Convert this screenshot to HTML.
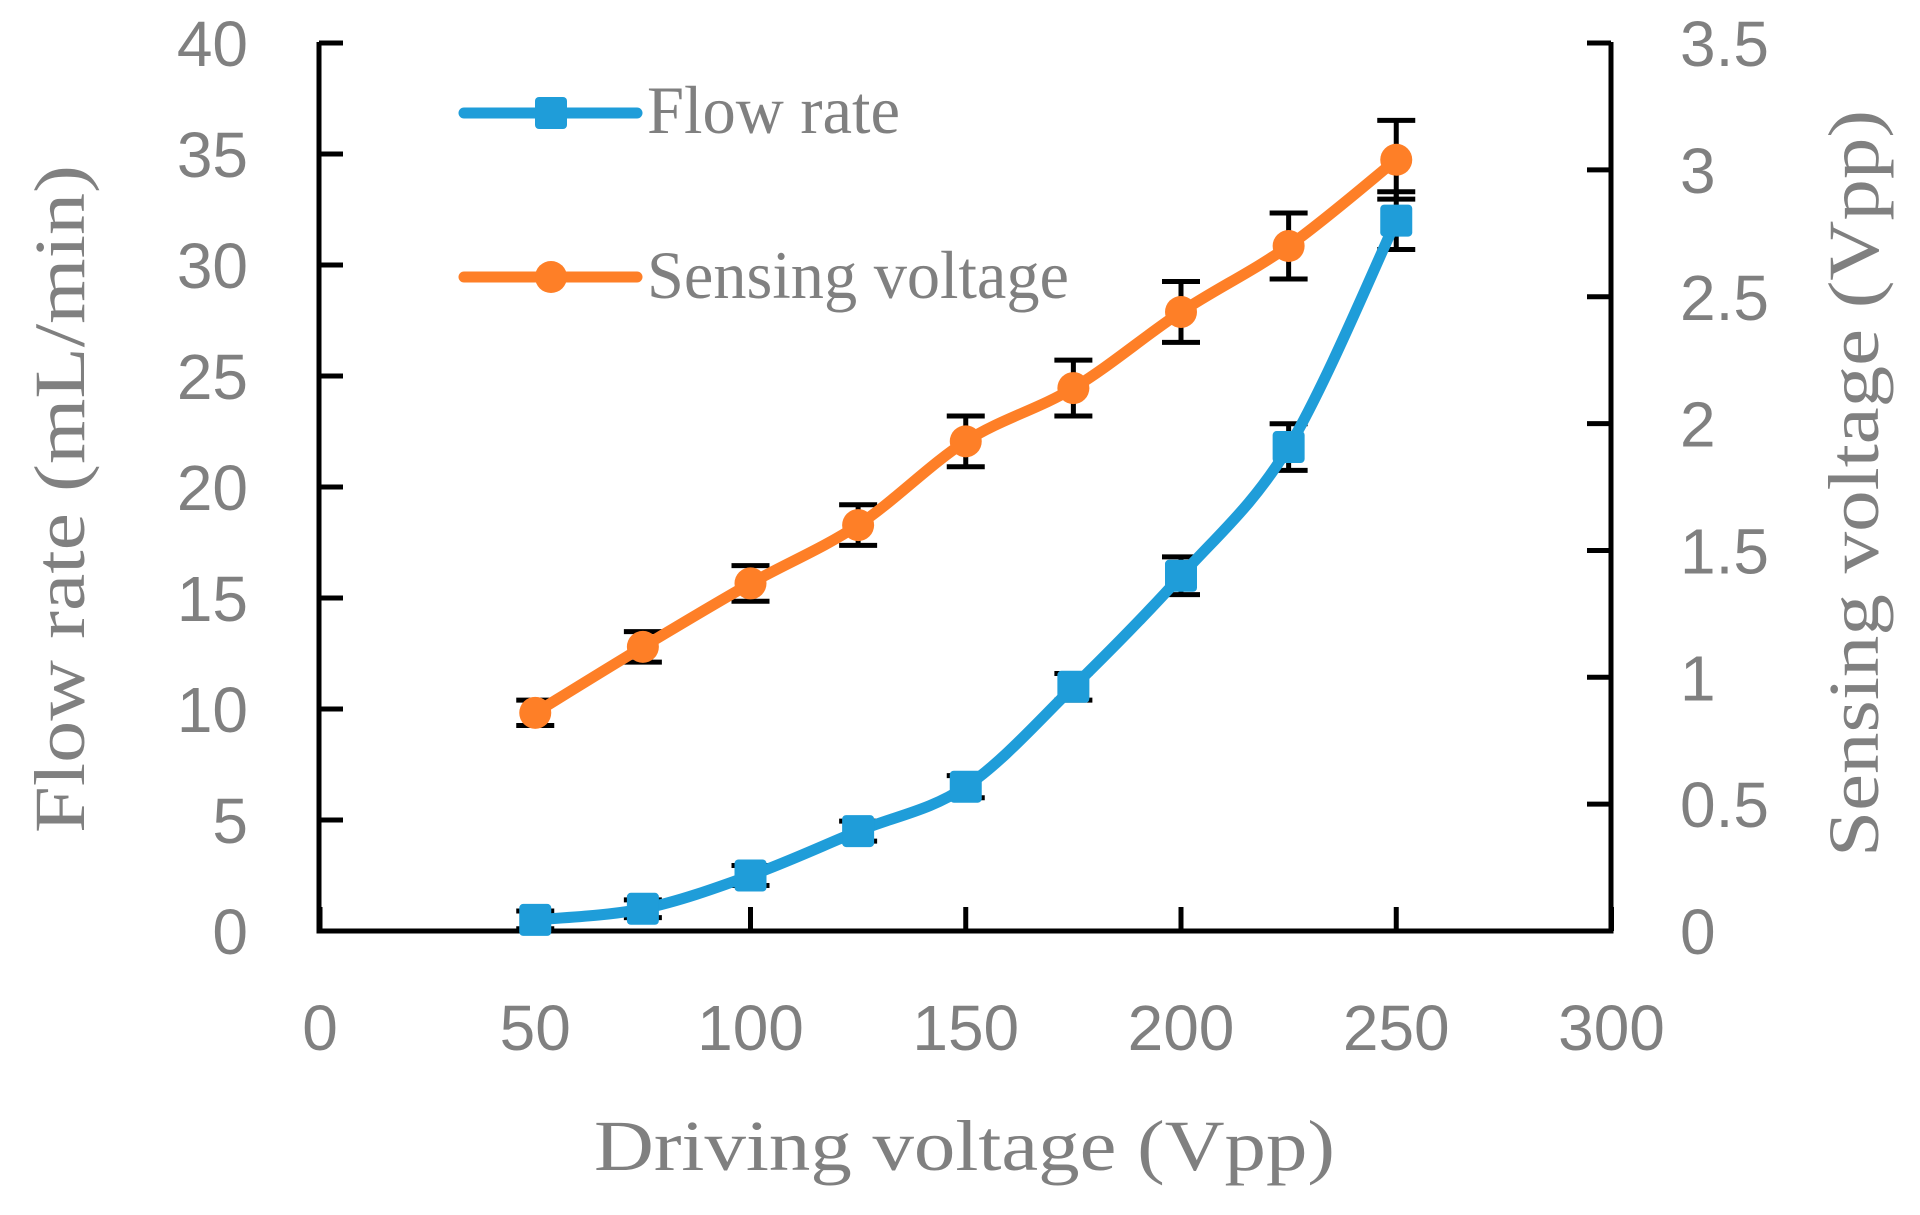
<!DOCTYPE html>
<html><head><meta charset="utf-8"><style>
html,body{margin:0;padding:0;background:#fff;}
svg{display:block;}
.t{font-family:"Liberation Sans",sans-serif;font-size:64px;fill:#808080;}
.s{font-family:"Liberation Serif",serif;fill:#808080;}
</style></head><body>
<svg id="c" width="1920" height="1215" xmlns="http://www.w3.org/2000/svg">
<g stroke="#000" stroke-width="5" fill="none" id="ax">
<polyline points="319,42 319,931 1611,931 1611,42"/>
</g>
<g id="ticks" stroke="#000" stroke-width="5"></g>
<g id="labels"></g>
<text class="s" x="594" y="1170" font-size="72" textLength="741" lengthAdjust="spacingAndGlyphs">Driving voltage (Vpp)</text>
<text class="s" font-size="72" transform="translate(84,833) rotate(-90)" textLength="668" lengthAdjust="spacingAndGlyphs">Flow rate (mL/min)</text>
<text class="s" font-size="72" transform="translate(1878,857) rotate(-90)" textLength="747" lengthAdjust="spacingAndGlyphs">Sensing voltage (Vpp)</text>
<line x1="464" y1="113" x2="637" y2="113" stroke="#1f9dd9" stroke-width="11" stroke-linecap="round"/>
<rect x="535" y="97" width="32" height="32" rx="4" fill="#1f9dd9"/>
<text class="s" x="647" y="133" font-size="68" textLength="253" lengthAdjust="spacingAndGlyphs">Flow rate</text>
<line x1="464" y1="277" x2="637" y2="277" stroke="#fe7f27" stroke-width="11" stroke-linecap="round"/>
<circle cx="551" cy="277" r="16" fill="#fe7f27"/>
<text class="s" x="647" y="298" font-size="68" textLength="422" lengthAdjust="spacingAndGlyphs">Sensing voltage</text>
<g id="data"></g>
</svg>
<script>
var NS="http://www.w3.org/2000/svg";
function el(p,n,a,txt){var e=document.createElementNS(NS,n);for(var k in a)e.setAttribute(k,a[k]);if(txt!=null)e.textContent=txt;p.appendChild(e);return e;}
var X=function(v){return 320+v*4.305;};
var YL=function(v){return 931-v*22.2;};
var YR=function(v){return 931-v*253.7;};
var tk=document.getElementById('ticks'),lb=document.getElementById('labels'),dt=document.getElementById('data');
for(var i=0;i<=8;i++){var y=YL(i*5);el(tk,'line',{x1:319,y1:y,x2:343,y2:y});
 el(lb,'text',{'class':'t',x:248,y:y+23,'text-anchor':'end'},String(i*5));}
for(var i=0;i<=7;i++){var y=YR(i*0.5);el(tk,'line',{x1:1587,y1:y,x2:1611,y2:y});
 el(lb,'text',{'class':'t',x:1680,y:y+23},String(i*0.5));}
for(var i=0;i<=6;i++){var x=X(i*50);el(tk,'line',{x1:x,y1:907,x2:x,y2:931});
 el(lb,'text',{'class':'t',x:x,y:1050,'text-anchor':'middle'},String(i*50));}
var xs=[50,75,100,125,150,175,200,225,250];
var fl=[0.5,1,2.5,4.5,6.5,11,16,21.8,32.0], fe=[0.4,0.4,0.45,0.45,0.5,0.6,0.85,1.05,1.3];
var sv=[0.86,1.12,1.37,1.6,1.93,2.14,2.44,2.70,3.04], se=[0.05,0.06,0.07,0.08,0.1,0.11,0.12,0.13,0.155];
function smooth(pts){var d='M'+pts[0][0]+','+pts[0][1];var t=1/6;
 for(var i=0;i<pts.length-1;i++){var p0=pts[Math.max(0,i-1)],p1=pts[i],p2=pts[i+1],p3=pts[Math.min(pts.length-1,i+2)];
 d+=' C'+(p1[0]+(p2[0]-p0[0])*t)+','+(p1[1]+(p2[1]-p0[1])*t)+' '+(p2[0]-(p3[0]-p1[0])*t)+','+(p2[1]-(p3[1]-p1[1])*t)+' '+p2[0]+','+p2[1];}
 return d;}
function err(x,yt,yb){var g=el(dt,'g',{stroke:'#000','stroke-width':5});
 el(g,'line',{x1:x,y1:yt,x2:x,y2:yb});el(g,'line',{x1:x-19,y1:yt,x2:x+19,y2:yt});el(g,'line',{x1:x-19,y1:yb,x2:x+19,y2:yb});}
var bp=xs.map(function(v,i){return [X(v),YL(fl[i])];});
var op=xs.map(function(v,i){return [X(v),YR(sv[i])];});
xs.forEach(function(v,i){err(X(v),YL(fl[i]+fe[i]),YL(fl[i]-fe[i]));});
xs.forEach(function(v,i){err(X(v),YR(sv[i]+se[i]),YR(sv[i]-se[i]));});
el(dt,'path',{d:smooth(bp),fill:'none',stroke:'#1f9dd9','stroke-width':11,'stroke-linejoin':'round'});
bp.forEach(function(p){el(dt,'rect',{x:p[0]-16,y:p[1]-16,width:32,height:32,rx:4,fill:'#1f9dd9'});});
el(dt,'path',{d:smooth(op),fill:'none',stroke:'#fe7f27','stroke-width':11,'stroke-linejoin':'round'});
op.forEach(function(p){el(dt,'circle',{cx:p[0],cy:p[1],r:16,fill:'#fe7f27'});});
</script>
</body></html>
